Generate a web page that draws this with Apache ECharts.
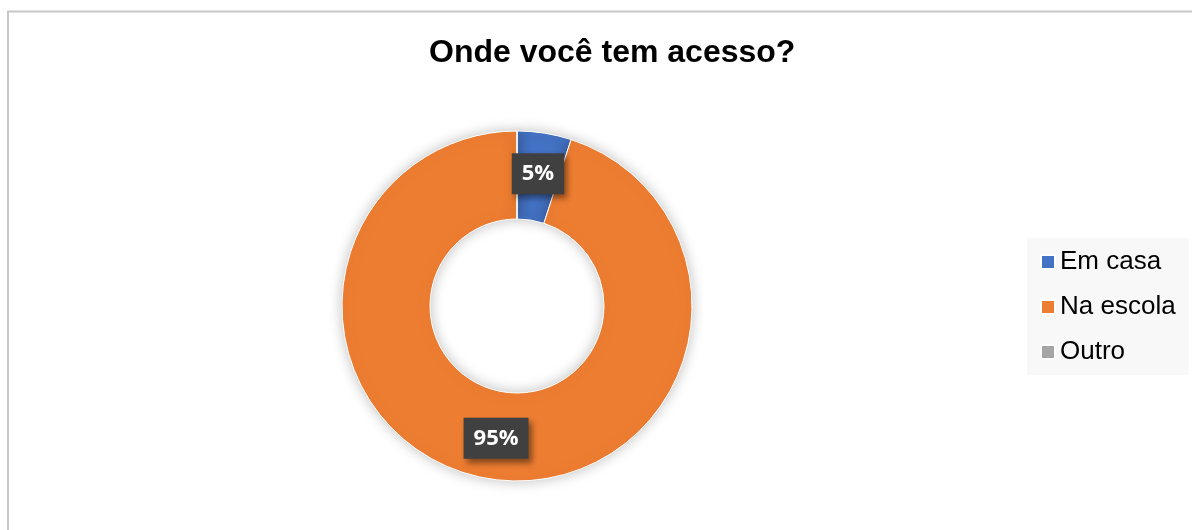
<!DOCTYPE html>
<html>
<head>
<meta charset="utf-8">
<script src="https://cdn.jsdelivr.net/npm/echarts@6/dist/echarts.min.js"></script>
<style>
html,body{margin:0;padding:0;background:#fff;}
#chart{width:1192px;height:530px;}
</style>
</head>
<body>
<div id="chart"></div>
<script>
const categories = ['Em casa', 'Na escola', 'Outro'];
const values = [5, 95, 0];
const colors = ['#4472C4', '#ED7D31', '#A5A5A5'];
const titleText = 'Onde você tem acesso?';

const chart = echarts.init(document.getElementById('chart'));
const data = categories.map((name, i) => ({
  name: name,
  value: values[i],
  itemStyle: { color: colors[i] },
  label: { show: values[i] > 0 }
}));

chart.setOption({
  animation: false,
  title: {
    text: titleText,
    left: 424,
    top: 32,
    textStyle: { fontFamily: 'Liberation Sans, Arial', fontWeight: 'bold', fontSize: 32, color: '#000' }
  },
  legend: {
    orient: 'vertical',
    left: 1027,
    top: 238,
    backgroundColor: '#f8f8f8',
    padding: [11, 13, 10, 13],
    itemWidth: 14,
    itemHeight: 14,
    itemGap: 19,
    icon: 'rect',
    data: categories,
    textStyle: { fontFamily: 'Liberation Sans, Arial', fontSize: 26, color: '#000', lineHeight: 26 }
  },
  graphic: [{
    type: 'rect',
    shape: { x: 8, y: 11.5, width: 1300, height: 600 },
    style: { fill: 'none', stroke: '#c8c8c8', lineWidth: 2 },
    silent: true
  }],
  series: [{
    type: 'pie',
    center: [517, 306],
    radius: [87, 175],
    startAngle: 90,
    clockwise: true,
    avoidLabelOverlap: false,
    itemStyle: {
      borderColor: '#ffffff',
      borderWidth: 1,
      shadowBlur: 14,
      shadowColor: 'rgba(0,0,0,0.25)'
    },
    label: {
      position: 'inside',
      formatter: '{d}%',
      fontFamily: 'Open Sans',
      fontWeight: 'bold',
      fontSize: 22,
      lineHeight: 22,
      color: '#ffffff',
      backgroundColor: '#404040',
      padding: [10, 10, 9, 10],
      shadowBlur: 6,
      shadowOffsetX: 3,
      shadowOffsetY: 4,
      shadowColor: 'rgba(0,0,0,0.45)'
    },
    labelLine: { show: false },
    emphasis: { disabled: true },
    data: data
  }]
});
</script>
</body>
</html>
